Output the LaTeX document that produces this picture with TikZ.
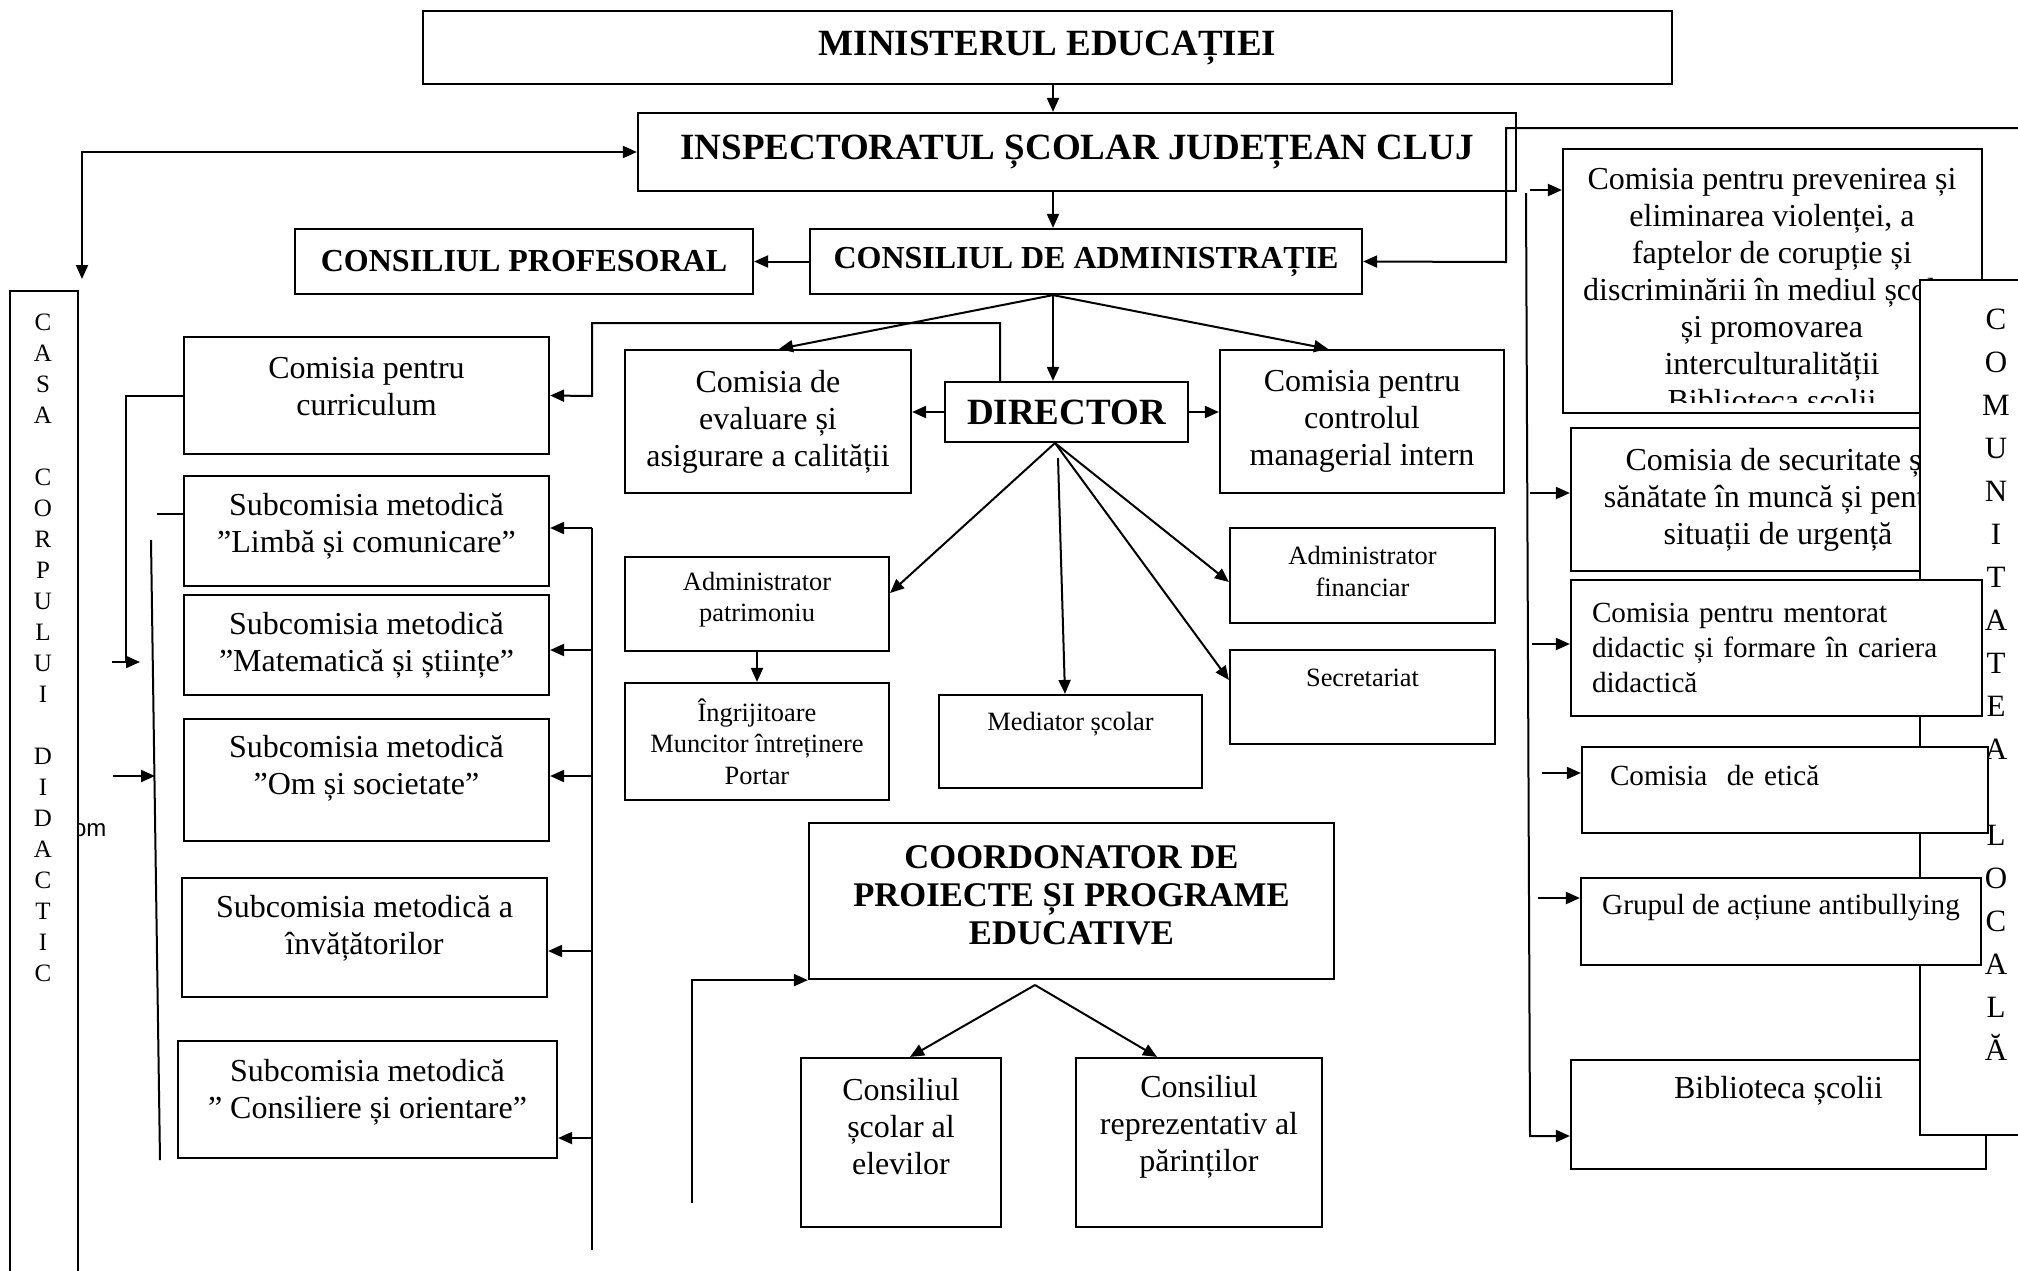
\documentclass[tikz,border=0pt]{standalone}
\usepackage{fontspec}
\setmainfont{Liberation Serif}
\newfontfamily\omsans{Liberation Sans}
\usepackage{tikz}
\usetikzlibrary{arrows.meta,positioning,calc}

\newcommand{\bigbold}{\fontsize{18.5}{22}\selectfont\bfseries}
\newcommand{\councilfont}{\fontsize{16}{19}\selectfont\bfseries}
\newcommand{\coordfont}{\fontsize{17.3}{19}\selectfont\bfseries}
\newcommand{\midtext}{\fontsize{16}{18.5}\selectfont}
\newcommand{\smalltext}{\fontsize{13.2}{15.7}\selectfont}
\newcommand{\righttext}{\fontsize{14.6}{17.3}\selectfont}
\newcommand{\casafont}{\fontsize{12.5}{15.5}\selectfont}
\newcommand{\commfont}{\fontsize{15.5}{21.5}\selectfont}

\begin{document}
\begin{tikzpicture}[
    x=0.5pt, y=-0.5pt, line width=1pt,
    >={Triangle[length=7pt,width=6pt]},
    orgbox/.style={rectangle, draw, line width=1.1pt, fill=white, inner sep=0pt, align=center, font=\midtext},
    headbox/.style={orgbox, font=\bigbold},
    smallbox/.style={orgbox, font=\smalltext},
    sidebox/.style={orgbox, font=\righttext},
    letters/.style={inner sep=0pt, align=center, anchor=north}
]
    \useasboundingbox (0,0) rectangle (2018,1270);
    \fill[white] (0,0) rectangle (2018,1270);
    \clip (0,0) rectangle (2018,1270);

    % top of the hierarchy
    \node[headbox, minimum width=624.5pt, minimum height=36.5pt] (min) at (1047.5,47.5) {MINISTERUL EDUCAȚIEI};
    \node[headbox, minimum width=439pt, minimum height=39pt] (isj) at (1077,152) {INSPECTORATUL ȘCOLAR JUDEȚEAN CLUJ};
    \node[headbox, font=\councilfont, minimum width=276pt, minimum height=32.5pt] (cda) at (1086,261.5) {CONSILIUL DE ADMINISTRAȚIE};
    \node[headbox, font=\councilfont, minimum width=229pt, minimum height=32.5pt] (cp) at (524,261.5) {CONSILIUL PROFESORAL};
    \node[headbox, minimum width=121.5pt, minimum height=30pt] (dir) at (1066.5,412) {DIRECTOR};

    % casa corpului didactic
    \node[orgbox, minimum width=34pt, minimum height=510pt, anchor=north] (casa) at (44,290) {};
    \node[letters, font=\casafont] (casatext) at (43,312.5) {C\\A\\S\\A\\~\\C\\O\\R\\P\\U\\L\\U\\I\\~\\D\\I\\D\\A\\C\\T\\I\\C};
    \begin{scope}
        \clip (79,800) rectangle (130,860);
        \node[anchor=west, inner sep=0pt, font=\omsans\fontsize{12}{14}\selectfont] (omfrag) at (72,830) {om};
    \end{scope}

    % comisii langa director
    \node[orgbox, minimum width=143pt, minimum height=71.5pt] (eval) at (768,421.5) {Comisia de\\evaluare și\\asigurare a calității};
    \node[orgbox, minimum width=142pt, minimum height=71.5pt] (ctrl) at (1362,421.5) {Comisia pentru\\controlul\\managerial intern};

    % curriculum si subcomisii
    \node[orgbox, minimum width=182.5pt, minimum height=58.5pt, text depth=9pt] (curr) at (366.5,395.5) {Comisia pentru\\curriculum};
    \node[orgbox, minimum width=182.5pt, minimum height=55pt, text depth=8pt] (limba) at (366.5,531) {Subcomisia metodică\\”Limbă și comunicare”};
    \node[orgbox, minimum width=182.5pt, minimum height=50pt] (mate) at (366.5,645) {Subcomisia metodică\\”Matematică și științe”};
    \node[orgbox, minimum width=182.5pt, minimum height=61pt, text depth=15pt] (om) at (366.5,780) {Subcomisia metodică\\”Om și societate”};
    \node[orgbox, minimum width=182.5pt, minimum height=59.5pt, text depth=13pt] (invat) at (364.5,937.5) {Subcomisia metodică a\\învățătorilor};
    \node[orgbox, minimum width=189.5pt, minimum height=58.5pt, text depth=11pt] (consil) at (367.5,1099.5) {Subcomisia metodică\\” Consiliere și orientare”};

    % personal
    \node[smallbox, minimum width=132pt, minimum height=47pt, text depth=7pt] (patr) at (757,604) {Administrator\\patrimoniu};
    \node[smallbox, minimum width=132pt, minimum height=58.5pt] (ingr) at (757,741.5) {Îngrijitoare\\Muncitor întreținere\\Portar};
    \node[smallbox, minimum width=131.5pt, minimum height=46.5pt, text depth=20.6pt] (med) at (1070.5,741.5) {Mediator școlar};
    \node[smallbox, minimum width=132.5pt, minimum height=47.5pt, text depth=4pt] (fin) at (1362.5,575.5) {Administrator\\financiar};
    \node[smallbox, minimum width=132.5pt, minimum height=47pt, text depth=19pt] (secr) at (1362.5,697) {Secretariat};

    % proiecte educative
    \node[orgbox, font=\coordfont, minimum width=262.5pt, minimum height=78pt, text depth=6pt] (coord) at (1071.5,901) {COORDONATOR DE\\PROIECTE ȘI PROGRAME\\EDUCATIVE};
    \node[orgbox, minimum width=100pt, minimum height=84.5pt, text depth=16pt] (scol) at (901,1142.5) {Consiliul\\școlar al\\elevilor};
    \node[orgbox, minimum width=123pt, minimum height=84.5pt, text depth=19.5pt] (parin) at (1199,1142.5) {Consiliul\\reprezentativ al\\părinților};

    % coloana din dreapta
    \node[orgbox, minimum width=209.5pt, minimum height=132pt] (prev) at (1772.5,281) {};
    \begin{scope}
        \clip (prev.north west) rectangle (1990,402);
        \node[letters, font=\midtext] (prevtext) at (1772,167) {Comisia pentru prevenirea și\\eliminarea violenței, a\\faptelor de corupție și\\discriminării în mediul școlar\\și promovarea\\interculturalității\\Biblioteca școlii};
    \end{scope}
    \node[orgbox, minimum width=207pt, minimum height=71.5pt] (secu) at (1778,499.5) {Comisia de securitate și\\sănătate în muncă și pentru\\situații de urgență};
    \node[orgbox, minimum width=207.5pt, minimum height=54.5pt, text depth=27pt] (bibl) at (1778.5,1114.5) {Biblioteca școlii};
    \node[orgbox, minimum width=60pt, minimum height=427.5pt] (comm) at (1980,707.5) {};
    \node[letters, font=\commfont] (commtext) at (1996,308) {C\\O\\M\\U\\N\\I\\T\\A\\T\\E\\A\\~\\L\\O\\C\\A\\L\\Ă};
    \node[sidebox, align=left, text width=184.5pt, inner xsep=10.5pt, minimum height=68pt] (ment) at (1776.5,648) {Comisia pentru mentorat\\didactic și formare în cariera\\didactică};
    \node[sidebox, align=left, text width=175pt, inner xsep=14pt, minimum height=43pt, text depth=15pt] (etic) at (1785,790) {Comisia~ de etică};
    \node[sidebox, minimum width=200pt, minimum height=43.5pt, text depth=17.6pt] (grup) at (1781,921.5) {Grupul de acțiune antibullying};

    % legaturi sus
    \coordinate (spine) at (1053,0);
    \draw[->] (min.south -| spine) -- (isj.north -| spine);
    \draw[->] (isj.south -| spine) -- (cda.north -| spine);
    \coordinate (casain) at (82,279);
    \draw[<->] (casain) |- (isj.west);
    \draw[->] (cda.west) -- (cp.east);
    \coordinate (rtop) at (2030,128);
    \draw[->] (rtop) -| (1506,262) -- (cda.east);

    % consiliul de administratie si directorul
    \coordinate (cdasrc) at (cda.south -| spine);
    \draw[->] (cdasrc) -- (dir.north -| spine);
    \draw[->] (cdasrc) -- (eval.north -| 779,0);
    \draw[->] (cdasrc) -- (ctrl.north -| 1328,0);
    \draw[->] (dir.west) -- (dir.west -| eval.east);
    \draw[->] (dir.east) -- (dir.east -| ctrl.west);
    \coordinate (ctop) at (1000,323);
    \draw[->] (ctop |- dir.north) -- (ctop) -| (592,396) -- (curr.east);

    % partea stanga
    \draw (curr.west) -| (126,663);
    \draw (157,514) -- (limba.west |- 0,514);
    \draw (151,540) -- (160,1160);
    \draw[->] (112,662) -- (140,662);
    \draw[->] (113,776) -- (155,776);
    \coordinate (bus) at (592,528);
    \draw (bus) -- (592,1250);
    \draw[->] (bus) -- (limba.east |- bus);
    \draw[->] (592,650) -- (mate.east |- 0,650);
    \draw[->] (592,776) -- (om.east |- 0,776);
    \draw[->] (592,951) -- (invat.east |- 0,951);
    \draw[->] (592,1138) -- (consil.east |- 0,1138);

    % sub director
    \coordinate (dsrc) at (1055,443);
    \draw[->] (dsrc) -- (patr.east |- 0,593);
    \draw[->] (1058,458) -- (med.north -| 1065,0);
    \draw[->] (dsrc) -- (fin.west |- 0,582);
    \draw[->] (dsrc) -- (secr.west |- 0,680);
    \draw[->] (patr.south) -- (ingr.north);

    % coordonator
    \draw[->] (692,1203) |- (coord.south west);
    \coordinate (csrc) at (1035,985);
    \draw[->] (csrc) -- (scol.north -| 910,0);
    \draw[->] (csrc) -- (parin.north -| 1157,0);

    % dreapta
    \draw[->] (1526,193) -- (1530,1136) -- (bibl.west |- 0,1136);
    \draw[->] (1530,190) -- (prev.west |- 0,190);
    \draw[->] (1530,493) -- (secu.west |- 0,493);
    \draw[->] (1532,644) -- (ment.west |- 0,644);
    \draw[->] (1542,773) -- (etic.west |- 0,773);
    \draw[->] (1538,898) -- (grup.west |- 0,898);
\end{tikzpicture}
\end{document}
